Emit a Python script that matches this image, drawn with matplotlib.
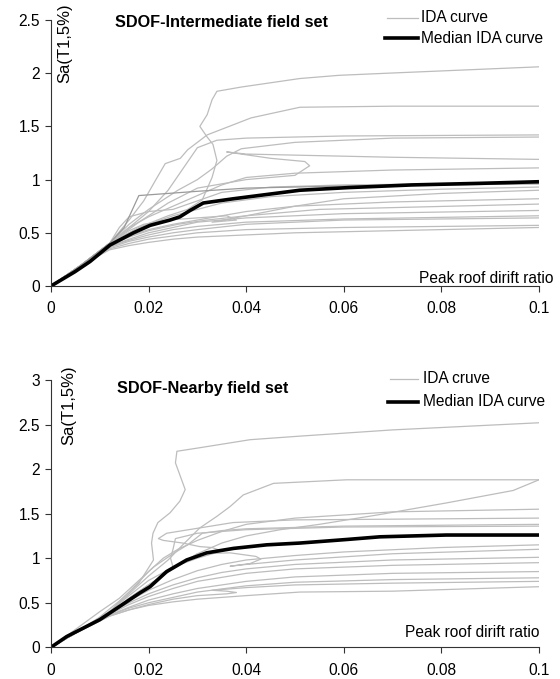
import matplotlib
matplotlib.use("Agg")
import matplotlib.pyplot as plt

plt.rcParams['font.family'] = ['Liberation Sans', 'DejaVu Sans']

# --- SDOF-Intermediate field set: individual IDA curves (drift, Sa) ---
int_x = [
    [0, 0.006, 0.012, 0.018, 0.024, 0.028, 0.031, 0.033, 0.034, 0.0332, 0.032, 0.0305, 0.032, 0.033, 0.034, 0.039, 0.051, 0.059, 0.069, 0.1],
    [0, 0.006, 0.012, 0.016, 0.019, 0.0215, 0.0234, 0.0265, 0.028, 0.032, 0.041, 0.051, 0.07, 0.1],
    [0, 0.006, 0.012, 0.016, 0.02, 0.024, 0.027, 0.03, 0.034, 0.04, 0.06, 0.1],
    [0, 0.006, 0.012, 0.016, 0.02, 0.026, 0.03, 0.033, 0.036, 0.039, 0.05, 0.07, 0.1],
    [0, 0.006, 0.012, 0.018, 0.024, 0.03, 0.04, 0.05, 0.053, 0.052, 0.045, 0.036, 0.04, 0.05, 0.07, 0.1],
    [0, 0.006, 0.012, 0.016, 0.02, 0.025, 0.03, 0.035, 0.04, 0.05, 0.07, 0.1],
    [0, 0.006, 0.012, 0.014, 0.016, 0.02, 0.025, 0.03, 0.035, 0.045, 0.06, 0.1],
    [0, 0.006, 0.012, 0.016, 0.02, 0.025, 0.03, 0.035, 0.045, 0.06, 0.08, 0.1],
    [0, 0.006, 0.012, 0.016, 0.019, 0.024, 0.03, 0.036, 0.038, 0.033, 0.04, 0.05, 0.06, 0.08, 0.1],
    [0, 0.006, 0.012, 0.016, 0.02, 0.025, 0.03, 0.04, 0.05, 0.07, 0.1],
    [0, 0.006, 0.012, 0.016, 0.02, 0.026, 0.032, 0.04, 0.055, 0.1],
    [0, 0.006, 0.012, 0.016, 0.02, 0.025, 0.03, 0.04, 0.06, 0.1],
    [0, 0.006, 0.012, 0.016, 0.02, 0.025, 0.03, 0.04, 0.06, 0.1],
    [0, 0.006, 0.012, 0.016, 0.02, 0.025, 0.03, 0.04, 0.06, 0.1],
    [0, 0.006, 0.012, 0.016, 0.02, 0.025, 0.03, 0.04, 0.06, 0.1],
    [0, 0.006, 0.012, 0.016, 0.02, 0.025, 0.03, 0.04, 0.05, 0.07, 0.1],
]
int_y = [
    [0, 0.19, 0.40, 0.55, 0.66, 0.72, 0.81, 1.02, 1.18, 1.33, 1.40, 1.50, 1.61, 1.75, 1.83, 1.87, 1.95, 1.98, 2.00, 2.06],
    [0, 0.19, 0.40, 0.62, 0.80, 1.00, 1.15, 1.20, 1.28, 1.42, 1.58, 1.68, 1.69, 1.69],
    [0, 0.19, 0.40, 0.55, 0.70, 0.90, 1.10, 1.30, 1.37, 1.39, 1.41, 1.42],
    [0, 0.19, 0.40, 0.58, 0.72, 0.90, 1.00, 1.10, 1.22, 1.29, 1.35, 1.39, 1.40],
    [0, 0.19, 0.40, 0.60, 0.78, 0.92, 1.00, 1.04, 1.13, 1.17, 1.20, 1.26, 1.24, 1.23, 1.21, 1.19],
    [0, 0.19, 0.40, 0.55, 0.65, 0.75, 0.85, 0.95, 1.02, 1.06, 1.09, 1.11],
    [0, 0.19, 0.40, 0.55, 0.65, 0.70, 0.72, 0.80, 0.88, 0.93, 0.95, 0.97],
    [0, 0.19, 0.40, 0.50, 0.58, 0.66, 0.72, 0.78, 0.84, 0.88, 0.91, 0.93],
    [0, 0.19, 0.40, 0.52, 0.58, 0.62, 0.64, 0.66, 0.62, 0.60, 0.66, 0.75, 0.82, 0.87, 0.90],
    [0, 0.19, 0.38, 0.47, 0.53, 0.58, 0.62, 0.70, 0.75, 0.79, 0.82],
    [0, 0.19, 0.38, 0.46, 0.52, 0.58, 0.62, 0.66, 0.72, 0.77],
    [0, 0.19, 0.37, 0.44, 0.50, 0.55, 0.60, 0.64, 0.68, 0.71],
    [0, 0.19, 0.37, 0.43, 0.48, 0.53, 0.56, 0.60, 0.63, 0.66],
    [0, 0.19, 0.36, 0.42, 0.46, 0.50, 0.53, 0.58, 0.62, 0.64],
    [0, 0.19, 0.35, 0.40, 0.44, 0.47, 0.50, 0.53, 0.55, 0.57],
    [0, 0.19, 0.34, 0.38, 0.41, 0.44, 0.46, 0.48, 0.50, 0.52, 0.55],
]
# darker grey curve
int_dark_x = [0, 0.006, 0.012, 0.015, 0.018, 0.03, 0.04, 0.06, 0.1]
int_dark_y = [0, 0.19, 0.40, 0.55, 0.85, 0.89, 0.92, 0.94, 0.96]

int_med_x = [0, 0.0049, 0.008, 0.0121, 0.0169, 0.0203, 0.0244, 0.0264, 0.0285, 0.0312, 0.0374, 0.0442, 0.051, 0.061, 0.074, 0.088, 0.1]
int_med_y = [0, 0.134, 0.23, 0.385, 0.50, 0.57, 0.62, 0.65, 0.71, 0.78, 0.82, 0.86, 0.90, 0.925, 0.95, 0.965, 0.98]

# --- SDOF-Nearby field set ---
near_x = [
    [0, 0.005, 0.01, 0.014, 0.018, 0.021, 0.0206, 0.0209, 0.0219, 0.0244, 0.0264, 0.0275, 0.0265, 0.0255, 0.0258, 0.0305, 0.0408, 0.051, 0.07, 0.1],
    [0, 0.005, 0.012, 0.016, 0.02, 0.024, 0.027, 0.0305, 0.034, 0.0367, 0.0394, 0.0456, 0.0606, 0.1],
    [0, 0.005, 0.012, 0.016, 0.02, 0.025, 0.03, 0.035, 0.04, 0.047, 0.055, 0.0674, 0.081, 0.0947, 0.1],
    [0, 0.005, 0.012, 0.016, 0.02, 0.023, 0.026, 0.03, 0.035, 0.04, 0.05, 0.07, 0.1],
    [0, 0.005, 0.012, 0.016, 0.02, 0.025, 0.03, 0.035, 0.033, 0.0305, 0.027, 0.023, 0.022, 0.0237, 0.0305, 0.0373, 0.05, 0.1],
    [0, 0.005, 0.01, 0.014, 0.018, 0.021, 0.025, 0.028, 0.031, 0.035, 0.04, 0.06, 0.1],
    [0, 0.005, 0.012, 0.016, 0.02, 0.023, 0.025, 0.0245, 0.025, 0.0255, 0.03, 0.04, 0.06, 0.1],
    [0, 0.005, 0.012, 0.016, 0.02, 0.025, 0.03, 0.035, 0.04, 0.05, 0.06, 0.08, 0.1],
    [0, 0.005, 0.012, 0.016, 0.02, 0.025, 0.03, 0.0367, 0.042, 0.043, 0.0408, 0.0367, 0.04, 0.05, 0.07, 0.1],
    [0, 0.005, 0.012, 0.016, 0.02, 0.025, 0.03, 0.035, 0.04, 0.05, 0.07, 0.1],
    [0, 0.005, 0.012, 0.016, 0.02, 0.025, 0.03, 0.04, 0.05, 0.07, 0.1],
    [0, 0.005, 0.012, 0.016, 0.02, 0.025, 0.03, 0.04, 0.05, 0.07, 0.1],
    [0, 0.005, 0.012, 0.016, 0.02, 0.025, 0.03, 0.04, 0.05, 0.07, 0.1],
    [0, 0.005, 0.012, 0.016, 0.02, 0.025, 0.03, 0.036, 0.038, 0.036, 0.033, 0.04, 0.05, 0.07, 0.1],
    [0, 0.005, 0.012, 0.016, 0.02, 0.025, 0.03, 0.04, 0.051, 0.07, 0.1],
]
near_y = [
    [0, 0.16, 0.34, 0.52, 0.72, 0.98, 1.17, 1.28, 1.40, 1.51, 1.64, 1.77, 1.92, 2.07, 2.20, 2.24, 2.33, 2.37, 2.44, 2.52],
    [0, 0.16, 0.40, 0.60, 0.80, 0.98, 1.15, 1.34, 1.47, 1.58, 1.71, 1.84, 1.88, 1.88],
    [0, 0.16, 0.38, 0.55, 0.70, 0.88, 1.05, 1.17, 1.25, 1.32, 1.38, 1.49, 1.62, 1.76, 1.88],
    [0, 0.16, 0.40, 0.62, 0.85, 1.00, 1.10, 1.20, 1.30, 1.38, 1.45, 1.52, 1.55],
    [0, 0.16, 0.40, 0.58, 0.75, 0.90, 1.00, 1.08, 1.12, 1.13, 1.17, 1.20, 1.22, 1.28, 1.34, 1.40, 1.43, 1.45],
    [0, 0.20, 0.40, 0.55, 0.75, 0.90, 1.05, 1.15, 1.28, 1.31, 1.33, 1.36, 1.38],
    [0, 0.16, 0.38, 0.55, 0.70, 0.80, 0.90, 1.00, 1.10, 1.22, 1.28, 1.32, 1.35, 1.36],
    [0, 0.16, 0.38, 0.52, 0.64, 0.76, 0.86, 0.93, 0.98, 1.03, 1.07, 1.12, 1.15],
    [0, 0.16, 0.38, 0.55, 0.70, 0.88, 1.05, 1.06, 1.02, 0.99, 0.94, 0.91, 0.93, 0.98, 1.05, 1.10],
    [0, 0.16, 0.38, 0.50, 0.60, 0.70, 0.78, 0.84, 0.88, 0.93, 0.98, 1.01],
    [0, 0.16, 0.37, 0.48, 0.57, 0.66, 0.74, 0.83, 0.88, 0.92, 0.95],
    [0, 0.16, 0.36, 0.45, 0.53, 0.60, 0.66, 0.74, 0.79, 0.83, 0.85],
    [0, 0.16, 0.36, 0.44, 0.50, 0.56, 0.62, 0.69, 0.73, 0.76, 0.78],
    [0, 0.16, 0.35, 0.42, 0.48, 0.54, 0.58, 0.60, 0.615, 0.63, 0.64, 0.67, 0.70, 0.72, 0.74],
    [0, 0.16, 0.35, 0.42, 0.47, 0.51, 0.54, 0.58, 0.62, 0.63, 0.68],
]
near_med_x = [0, 0.0032, 0.01, 0.0141, 0.0182, 0.0203, 0.0237, 0.0278, 0.0319, 0.0374, 0.0442, 0.051, 0.0606, 0.0674, 0.081, 0.1]
near_med_y = [0, 0.12, 0.31, 0.46, 0.61, 0.68, 0.85, 0.98, 1.06, 1.11, 1.15, 1.17, 1.21, 1.24, 1.26, 1.26]

x_ticks = [0, 0.02, 0.04, 0.06, 0.08, 0.1]
x_labels = ['0', '0.02', '0.04', '0.06', '0.08', '0.1']

GREY = '#bdbdbd'
FS = 11.2

fig = plt.figure(figsize=(5.6, 6.79), dpi=100)
ax1 = fig.add_axes([51/560, 1-286/679, 488/560, 266/679])
ax2 = fig.add_axes([51/560, 1-647.3/679, 488/560, 267.3/679])


def style(ax, ymax, yticks, ylabels):
    ax.set_xlim(0, 0.1)
    ax.set_ylim(0, ymax)
    ax.set_xticks(x_ticks)
    ax.set_xticklabels(x_labels)
    ax.set_yticks(yticks)
    ax.set_yticklabels(ylabels)
    for s in ['top', 'right']:
        ax.spines[s].set_visible(False)
    for s in ['left', 'bottom']:
        ax.spines[s].set_color('#333333')
        ax.spines[s].set_linewidth(0.8)
    ax.tick_params(direction='out', length=4, width=0.8, color='#333333',
                   labelsize=FS, pad=4)
    ax.tick_params(axis='x', pad=7)


# top panel
for xs, ys in zip(int_x, int_y):
    ax1.plot(xs, ys, color=GREY, lw=0.9)
ax1.plot(int_dark_x, int_dark_y, color='#9a9a9a', lw=0.9)
ax1.plot(int_med_x, int_med_y, color='black', lw=2.6, solid_capstyle='butt')
style(ax1, 2.5, [0, 0.5, 1, 1.5, 2, 2.5], ['0', '0.5', '1', '1.5', '2', '2.5'])

ax1.text(0.131, 0.992, 'SDOF-Intermediate field set', transform=ax1.transAxes,
         fontsize=11.7, fontweight='bold', va='center', ha='left')
ax1.text(0.029, 0.914, 'Sa(T1,5%)', transform=ax1.transAxes, rotation=90,
         fontsize=12, va='center', ha='center')
ax1.text(1.029, 0.011, 'Peak roof dirift ratio', transform=ax1.transAxes,
         fontsize=FS, va='baseline', ha='right')
ax1.plot([0.689, 0.752], [1.008, 1.008], transform=ax1.transAxes, color=GREY,
         lw=0.9, clip_on=False)
ax1.text(0.758, 1.008, 'IDA curve', transform=ax1.transAxes, fontsize=FS,
         va='center', ha='left')
ax1.plot([0.685, 0.752], [0.932, 0.932], transform=ax1.transAxes, color='black',
         lw=2.6, clip_on=False)
ax1.text(0.758, 0.932, 'Median IDA curve', transform=ax1.transAxes, fontsize=FS,
         va='center', ha='left')

# bottom panel
for xs, ys in zip(near_x, near_y):
    ax2.plot(xs, ys, color=GREY, lw=0.9)
ax2.plot(near_med_x, near_med_y, color='black', lw=2.6, solid_capstyle='butt')
style(ax2, 3, [0, 0.5, 1, 1.5, 2, 2.5, 3], ['0', '0.5', '1', '1.5', '2', '2.5', '3'])

ax2.text(0.135, 0.97, 'SDOF-Nearby field set', transform=ax2.transAxes,
         fontsize=11.7, fontweight='bold', va='center', ha='left')
ax2.text(0.037, 0.907, 'Sa(T1,5%)', transform=ax2.transAxes, rotation=90,
         fontsize=12, va='center', ha='center')
ax2.text(1.002, 0.039, 'Peak roof dirift ratio', transform=ax2.transAxes,
         fontsize=FS, va='baseline', ha='right')
ax2.plot([0.695, 0.752], [1.004, 1.004], transform=ax2.transAxes, color=GREY,
         lw=0.9, clip_on=False)
ax2.text(0.762, 1.004, 'IDA cruve', transform=ax2.transAxes, fontsize=FS,
         va='center', ha='left')
ax2.plot([0.691, 0.752], [0.918, 0.918], transform=ax2.transAxes, color='black',
         lw=2.6, clip_on=False)
ax2.text(0.762, 0.918, 'Median IDA curve', transform=ax2.transAxes, fontsize=FS,
         va='center', ha='left')

fig.savefig('out.png', dpi=100)
